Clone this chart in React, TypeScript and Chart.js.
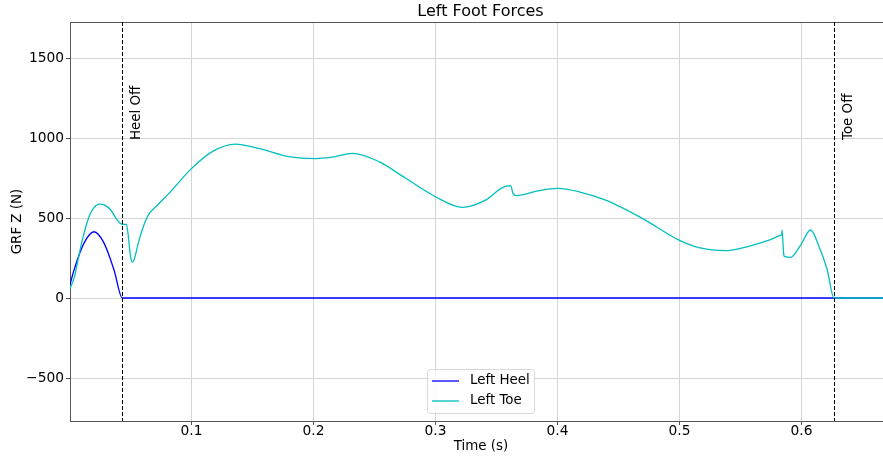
import { useEffect, useRef } from "react";
import { Chart, registerables } from "chart.js";
Chart.register(...registerables);

const toeTimes = [
  0.0, 0.004, 0.0064, 0.0105, 0.016, 0.02, 0.0248, 0.029, 0.0338, 0.0392, 0.0433, 0.0466, 0.048, 0.05, 0.0515,
  0.053, 0.057, 0.0638, 0.072, 0.0816, 0.0993, 0.117, 0.136, 0.155, 0.18, 0.2018, 0.215, 0.232, 0.2537, 0.2756,
  0.3, 0.322, 0.341, 0.3548, 0.3616, 0.3635, 0.3662, 0.3848, 0.4, 0.4176, 0.4395, 0.4695, 0.4996, 0.516, 0.538,
  0.55, 0.5625, 0.572, 0.58, 0.583, 0.5838, 0.584, 0.5855, 0.5865, 0.591, 0.5993, 0.6075, 0.6143, 0.6211, 0.6266,
  0.6668,
];
const toeForces = [
  54, 130, 217, 362, 508, 565, 587, 580, 550, 487, 460, 460, 400, 260, 223,
  240, 362, 508, 580, 654, 804, 915, 962, 935, 883, 871, 880, 904, 852, 748,
  633, 567, 612, 690, 702, 654, 640, 671, 685, 664, 612, 498, 362, 315, 296,
  310, 335, 358, 383, 392, 394, 425, 270, 258, 254, 331, 425, 323, 175, 0,
  0,
];
const heelTimes = [0.0, 0.0037, 0.0119, 0.0201, 0.0283, 0.0365, 0.0433, 0.6668];
const heelForces = [71, 175, 343, 414, 343, 175, 0, 0];

const xTicks = [0.1, 0.2, 0.3, 0.4, 0.5, 0.6];
const yTicks = [-500, 0, 500, 1000, 1500];
const eventTimes = [0.0433, 0.627];
const eventLabels = ["Heel Off", "Toe Off"];
const seriesNames = ["Left Heel", "Left Toe"];
const seriesColors = ["#0000ff", "#00bfbf"];
const titleText = "Left Foot Forces";
const xLabel = "Time (s)";
const yLabel = "GRF Z (N)";

const FONT = "'DejaVu Sans', sans-serif";

export default function App() {
  const ref = useRef<HTMLCanvasElement>(null);
  useEffect(() => {
    const canvas = ref.current!;
    const overlay = {
      id: "overlay",
      afterDatasetsDraw(chart: any) {
        const ctx = chart.ctx;
        const a = chart.chartArea;
        const xs = chart.scales.x;
        const ys = chart.scales.y;
        ctx.save();
        ctx.strokeStyle = "#555";
        ctx.lineWidth = 1;
        ctx.beginPath();
        ctx.moveTo(a.left, a.top + 0.5);
        ctx.lineTo(a.right, a.top + 0.5);
        ctx.stroke();
        ctx.strokeStyle = "#000";
        ctx.setLineDash([4, 2]);
        eventTimes.forEach((t) => {
          const px = Math.round(xs.getPixelForValue(t)) + 0.5;
          ctx.beginPath();
          ctx.moveTo(px, a.top);
          ctx.lineTo(px, a.bottom);
          ctx.stroke();
        });
        ctx.setLineDash([]);
        ctx.fillStyle = "#000";
        ctx.font = `13.4px ${FONT}`;
        ctx.textAlign = "left";
        ctx.textBaseline = "middle";
        eventTimes.forEach((t, i) => {
          const px = xs.getPixelForValue(t) + 14;
          const py = ys.getPixelForValue(1000) + 2;
          ctx.save();
          ctx.translate(px, py);
          ctx.rotate(-Math.PI / 2);
          ctx.fillText(eventLabels[i], 0, 0);
          ctx.restore();
        });
        ctx.restore();
      },
      afterDraw(chart: any) {
        const ctx = chart.ctx;
        const a = chart.chartArea;
        ctx.save();
        ctx.fillStyle = "#000";
        ctx.textAlign = "center";
        ctx.textBaseline = "middle";
        ctx.font = `16px ${FONT}`;
        ctx.fillText(titleText, 480.5, 12);
        ctx.font = `13.4px ${FONT}`;
        ctx.fillText(xLabel, 481, 447);
        ctx.save();
        ctx.translate(18, (a.top + a.bottom) / 2);
        ctx.rotate(-Math.PI / 2);
        ctx.fillText(yLabel, 0, 0);
        ctx.restore();
        const lx = 427.5, ly = 369.5, lw = 107, lh = 44, r = 3;
        ctx.beginPath();
        ctx.moveTo(lx + r, ly);
        ctx.lineTo(lx + lw - r, ly);
        ctx.arcTo(lx + lw, ly, lx + lw, ly + r, r);
        ctx.lineTo(lx + lw, ly + lh - r);
        ctx.arcTo(lx + lw, ly + lh, lx + lw - r, ly + lh, r);
        ctx.lineTo(lx + r, ly + lh);
        ctx.arcTo(lx, ly + lh, lx, ly + lh - r, r);
        ctx.lineTo(lx, ly + r);
        ctx.arcTo(lx, ly, lx + r, ly, r);
        ctx.closePath();
        ctx.fillStyle = "rgba(255,255,255,0.8)";
        ctx.fill();
        ctx.strokeStyle = "#d8d8d8";
        ctx.lineWidth = 1;
        ctx.stroke();
        const rows = [381, 401];
        seriesNames.forEach((name, i) => {
          ctx.strokeStyle = seriesColors[i];
          ctx.lineWidth = 1.3;
          ctx.beginPath();
          ctx.moveTo(432, rows[i]);
          ctx.lineTo(459, rows[i]);
          ctx.stroke();
          ctx.fillStyle = "#000";
          ctx.textAlign = "left";
          ctx.textBaseline = "middle";
          ctx.font = `13.4px ${FONT}`;
          ctx.fillText(name, 470, rows[i]);
        });
        ctx.restore();
      },
    };

    const chart = new Chart(canvas, {
      type: "line",
      data: {
        datasets: [
          {
            label: seriesNames[0],
            data: heelTimes.map((t, i) => ({ x: t, y: heelForces[i] })),
            borderColor: seriesColors[0],
            borderWidth: 1.3,
            pointRadius: 0,
            cubicInterpolationMode: "monotone",
            order: 2,
          },
          {
            label: seriesNames[1],
            data: toeTimes.map((t, i) => ({ x: t, y: toeForces[i] })),
            borderColor: seriesColors[1],
            borderWidth: 1.3,
            pointRadius: 0,
            cubicInterpolationMode: "monotone",
            order: 1,
          },
        ],
      },
      options: {
        animation: false,
        responsive: false,
        layout: { padding: { top: 22, left: 0, right: 0, bottom: 0 } },
        plugins: { legend: { display: false }, title: { display: false }, tooltip: { enabled: false } },
        scales: {
          x: {
            type: "linear",
            min: 0.0004,
            max: 0.6668,
            afterBuildTicks: (s: any) => {
              s.ticks = xTicks.map((v) => ({ value: v }));
            },
            afterFit: (s: any) => {
              s.height = 39;
            },
            grid: { color: "#d5d5d5", lineWidth: 1, tickColor: "#555", tickLength: 4 },
            border: { display: true, color: "#555", width: 1 },
            ticks: {
              color: "#000",
              font: { family: FONT, size: 13.8 },
              padding: -2,
              maxRotation: 0,
              callback: (v: any) => Number(v).toFixed(1),
            },
          },
          y: {
            type: "linear",
            min: -768.75,
            max: 1725,
            afterBuildTicks: (s: any) => {
              s.ticks = yTicks.map((v) => ({ value: v }));
            },
            afterFit: (s: any) => {
              s.width = 70;
            },
            grid: { color: "#d5d5d5", lineWidth: 1, tickColor: "#555", tickLength: 4 },
            border: { display: true, color: "#555", width: 1 },
            ticks: {
              color: "#000",
              font: { family: FONT, size: 13.8 },
              padding: 2,
              callback: (v: any) => (Number(v) < 0 ? "\u2212" + Math.abs(Number(v)) : String(v)),
            },
          },
        },
      },
      plugins: [overlay],
    } as any);
    return () => chart.destroy();
  }, []);
  return (
    <div style={{ position: "fixed", left: 0, top: 0, width: 883, height: 460, background: "#fff" }}>
      <canvas ref={ref} width={883} height={460} style={{ display: "block" }} />
    </div>
  );
}
